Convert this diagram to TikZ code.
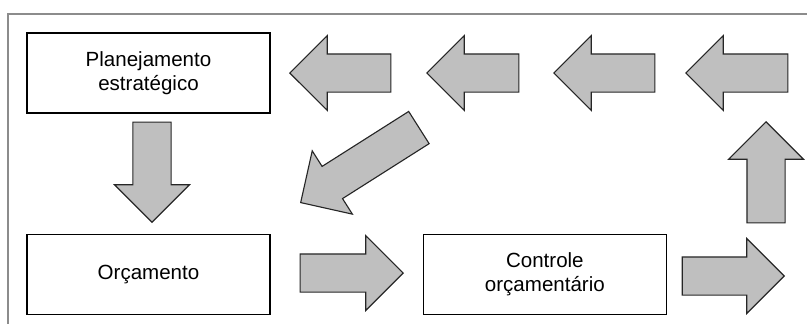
\documentclass[tikz,border=0pt]{standalone}
\usepackage{fontspec}
\setmainfont{Liberation Sans}
\usetikzlibrary{shapes.arrows, positioning}

\begin{document}
\begin{tikzpicture}[
    x=0.025cm, y=-0.025cm,
    stage/.style={
        draw,
        line width=0.9pt,
        fill=white,
        minimum width=6.075cm,
        minimum height=2cm,
        align=center,
        font=\fontsize{14.6}{17}\selectfont
    },
    blockarrow/.style={
        single arrow,
        draw=black!85,
        line width=0.8pt,
        fill=black!25,
        inner xsep=0pt,
        inner ysep=0.4625cm,
        single arrow head extend=0.46cm,
        single arrow tip angle=90,
        anchor=tip
    },
    frame/.style={
        draw=black!45,
        line width=1.1pt
    }
]
    \useasboundingbox (0,0) rectangle (807,324);

    % Frame (top and left edges only)
    \draw[frame] (807,14) -- (8,14) -- (8,324);

    % Stages
    \node[stage] (plan) at (148.5,73) {Planejamento\\estratégico};
    \node[stage, below=3cm of plan] (orc) {Orçamento};
    \node[stage, right=3.8cm of orc] (ctrl) {Controle\\orçamentário};

    % Block arrows, placed by their tips
    \node[blockarrow, minimum height=2.5cm, rotate=-90] (down) at (152,223) {};
    \node[blockarrow, minimum height=2.575cm] (toctrl) at (404,273) {};
    \node[blockarrow, minimum height=2.55cm] (out) at (785,276) {};
    \node[blockarrow, minimum height=2.525cm, rotate=90] (up) at (766,121) {};

    % Return row, right to left
    \node[blockarrow, minimum height=2.55cm, rotate=180] (backD) at (685,73) {};
    \node[blockarrow, minimum height=2.525cm, rotate=180] (backC) at (553,73) {};
    \node[blockarrow, minimum height=2.3cm, rotate=180] (backB) at (426,73) {};
    \node[blockarrow, minimum height=2.525cm, rotate=180] (backA) at (289,73) {};

    % Diagonal arrow back to the budget
    \node[blockarrow, minimum height=3.5cm, rotate=212.4] (diag) at (300,203) {};

\end{tikzpicture}
\end{document}
